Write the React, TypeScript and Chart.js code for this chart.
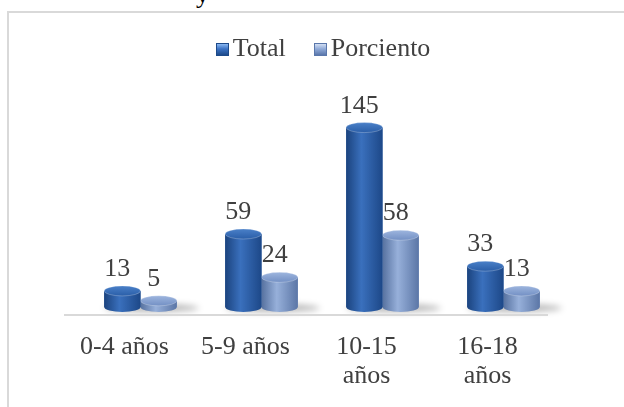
import React, { useEffect, useRef } from "react";
import { Chart, registerables } from "chart.js";

Chart.register(...registerables);

const categories: string[][] = [["0-4 años"], ["5-9 años"], ["10-15", "años"], ["16-18", "años"]];
const totalValues: number[] = [13, 59, 145, 33];
const porcientoValues: number[] = [5, 24, 58, 13];
const seriesNames: string[] = ["Total", "Porciento"];

const FONT = "'Liberation Serif', 'Times New Roman', serif";
const TEXT = "#404040";

const PAL = [
  { edge: "#1b437e", mid: "#3a70bd", edge2: "#1d4888", top1: "#2a5ea8", top2: "#4a80c8", solid: "#2b5fa8" },
  { edge: "#56719f", mid: "#97b0da", edge2: "#5b76a6", top1: "#7390c4", top2: "#9db5de", solid: "#7a97c9" },
];

const RY = 5;

const cylinderPlugin = {
  id: "cylinders",
  beforeDatasetsDraw(chart: any) {
    const ctx = chart.ctx;
    const m0 = chart.getDatasetMeta(0);
    const m1 = chart.getDatasetMeta(1);
    ctx.save();
    ctx.filter = "blur(3px)";
    ctx.fillStyle = "rgba(0,0,0,0.28)";
    m0.data.forEach((b0: any, i: number) => {
      const b1 = m1.data[i];
      const p0 = b0.getProps(["x", "base", "width"], true);
      const p1 = b1.getProps(["x", "base", "width"], true);
      const l = p0.x - p0.width / 2;
      const r = p1.x + p1.width / 2 + 22;
      ctx.beginPath();
      ctx.ellipse((l + r) / 2, p0.base + 1, (r - l) / 2, 4, 0, 0, Math.PI * 2);
      ctx.fill();
    });
    ctx.restore();
  },
  afterDatasetsDraw(chart: any) {
    const ctx = chart.ctx;
    ctx.save();
    for (const di of [1, 0]) {
      const meta = chart.getDatasetMeta(di);
      const pal = PAL[di];
      meta.data.forEach((bar: any) => {
        const { x, y, base, width } = bar.getProps(["x", "y", "base", "width"], true);
        const l = x - width / 2;
        const r = x + width / 2;
        const rx = width / 2;
        const g = ctx.createLinearGradient(l, 0, r, 0);
        g.addColorStop(0, pal.edge);
        g.addColorStop(0.42, pal.mid);
        g.addColorStop(1, pal.edge2);
        ctx.fillStyle = g;
        ctx.beginPath();
        ctx.moveTo(l, y);
        ctx.lineTo(l, base);
        ctx.ellipse(x, base, rx, RY, 0, Math.PI, 0, true);
        ctx.lineTo(r, y);
        ctx.closePath();
        ctx.fill();
        const tg = ctx.createLinearGradient(0, y - RY, 0, y + RY);
        tg.addColorStop(0, pal.top2);
        tg.addColorStop(1, pal.top1);
        ctx.fillStyle = tg;
        ctx.beginPath();
        ctx.ellipse(x, y, rx, RY, 0, 0, Math.PI * 2);
        ctx.fill();
        ctx.strokeStyle = "rgba(255,255,255,0.25)";
        ctx.lineWidth = 1;
        ctx.stroke();
      });
    }
    // data labels
    ctx.fillStyle = TEXT;
    ctx.font = `26px ${FONT}`;
    ctx.textAlign = "center";
    ctx.textBaseline = "alphabetic";
    for (const di of [0, 1]) {
      const meta = chart.getDatasetMeta(di);
      const vals = chart.data.datasets[di].data;
      meta.data.forEach((bar: any, i: number) => {
        const { x, y } = bar.getProps(["x", "y"], true);
        ctx.fillText(String(vals[i]), x - 5, y - RY - 10);
      });
    }
    ctx.restore();
  },
  afterDraw(chart: any) {
    const ctx = chart.ctx;
    const a = chart.chartArea;
    ctx.save();
    ctx.strokeStyle = "#d9d9d9";
    ctx.lineWidth = 2;
    ctx.beginPath();
    ctx.moveTo(a.left - 16, a.bottom + 8);
    ctx.lineTo(a.right - 16, a.bottom + 8);
    ctx.stroke();
    ctx.restore();
  },
};

export default function App() {
  const ref = useRef<HTMLCanvasElement | null>(null);
  useEffect(() => {
    if (!ref.current) return;
    const chart = new Chart(ref.current, {
      type: "bar",
      data: {
        labels: categories,
        datasets: [
          { label: seriesNames[0], data: totalValues, backgroundColor: PAL[0].solid, categoryPercentage: 0.6, barPercentage: 1.0 },
          { label: seriesNames[1], data: porcientoValues, backgroundColor: PAL[1].solid, categoryPercentage: 0.6, barPercentage: 1.0 },
        ],
      },
      options: {
        responsive: false,
        animation: false,
        layout: { padding: { left: 71, right: 85, top: 96, bottom: 26 } },
        plugins: { legend: { display: false }, tooltip: { enabled: false } },
        scales: {
          y: { display: false, min: 0, max: 160 },
          x: {
            grid: { display: false, drawTicks: false },
            border: { display: false },
            ticks: {
              color: TEXT,
              font: { family: FONT, size: 26, lineHeight: 1.1 },
              padding: 26,
              labelOffset: -16,
              maxRotation: 0,
              autoSkip: false,
            },
            afterFit: (scale: any) => {
              scale.height = 100;
            },
          },
        },
      },
      plugins: [cylinderPlugin],
    });
    return () => chart.destroy();
  }, []);

  const box = (light: string, mid: string, dark: string) => ({
    display: "inline-block",
    boxSizing: "border-box" as const,
    width: 13,
    height: 13,
    background: `linear-gradient(180deg, ${light} 0%, ${mid} 45%, ${dark} 100%)`,
    border: `1.5px solid ${dark}`,
    marginRight: 4,
    verticalAlign: "baseline",
  });

  return (
    <div style={{ position: "fixed", inset: 0, overflow: "hidden", background: "#fff" }}>
      <span
        style={{
          position: "absolute",
          left: 196,
          top: -18,
          font: `26px ${FONT}`,
          lineHeight: "26px",
          color: "#000",
        }}
      >
        y
      </span>
      <div
        style={{
          position: "absolute",
          left: 7,
          top: 11,
          width: 640,
          height: 420,
          border: "2px solid #d9d9d9",
        }}
      >
        <canvas ref={ref} width={640} height={420} style={{ display: "block" }} />
        <div
          style={{
            position: "absolute",
            top: 22,
            left: -6,
            width: 640,
            textAlign: "center",
            font: `26px ${FONT}`,
            lineHeight: "26px",
            color: TEXT,
            whiteSpace: "nowrap",
          }}
        >
          <span style={box("#8ab8f2", "#3b72c4", "#1d4a8a")} />
          <span style={{ marginRight: 28 }}>{seriesNames[0]}</span>
          <span style={box("#d2def3", "#90aad8", "#5a77ab")} />
          <span>{seriesNames[1]}</span>
        </div>
      </div>
    </div>
  );
}
